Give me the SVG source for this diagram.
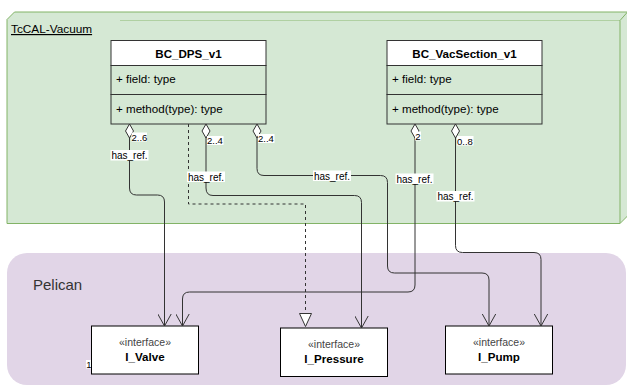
<svg xmlns="http://www.w3.org/2000/svg" width="627" height="386" viewBox="0 0 627 386">
  <defs>
    <style>
      text { font-family: "Liberation Sans", Arial, sans-serif; }
      .cls { stroke: #333333; stroke-width: 1; }
      .row { fill: #d5e8d4; }
      .hdr { fill: #ffffff; }
      .title { font-size: 11.6px; font-weight: bold; fill: #000; text-anchor: middle; }
      .attr { font-size: 11.6px; fill: #000; }
      .iface { fill: #ffffff; stroke: #000000; stroke-width: 1; }
      .stereo { font-size: 10.5px; fill: #444; text-anchor: middle; }
      .iname { font-size: 11.6px; font-weight: bold; fill: #000; text-anchor: middle; }
      .edge { fill: none; stroke: #333333; stroke-width: 1; }
      .dash { stroke-dasharray: 3 3; }
      .lblbg { fill: #ffffff; }
      .lbl { font-size: 10px; fill: #000; text-anchor: middle; }
      .mult { font-size: 9.5px; fill: #000; }
    </style>
    <marker id="open" viewBox="0 0 14 14" refX="13" refY="7" markerWidth="14" markerHeight="14" markerUnits="userSpaceOnUse" orient="auto">
      <path d="M1,0.3 L13,7 L1,13.7" fill="none" stroke="#333333" stroke-width="1"/>
    </marker>
    <marker id="dia" viewBox="0 0 16 10" refX="1" refY="5" markerWidth="16" markerHeight="10" markerUnits="userSpaceOnUse" orient="auto">
      <path d="M1,5 L8,1 L15,5 L8,9 Z" fill="#ffffff" stroke="#333333" stroke-width="1"/>
    </marker>
  </defs>

  <g id="pkg-tccal">
    <path d="M7,19.5 L14.5,12 L627.5,12 L627.5,216 L620,223.5 L7,223.5 Z" fill="#d5e8d4" stroke="#82b366" stroke-width="1"/>
    <path d="M620,223.5 L620,20.5 L627.5,12" fill="none" stroke="#82b366" stroke-width="1"/>
    <path d="M120,20.5 L620,20.5" fill="none" stroke="#82b366" stroke-width="1" stroke-opacity="0.45"/>
    <text x="11" y="33" font-size="11.8" fill="#000" text-decoration="underline">TcCAL-Vacuum</text>
  </g>

  <g id="pkg-pelican">
    <rect x="7" y="253" width="619" height="132" rx="20" ry="20" fill="#e1d5e7"/>
    <text x="33" y="290" font-size="15" fill="#333333">Pelican</text>
  </g>

  <g id="BC_DPS_v1">
    <rect class="cls hdr" x="111" y="40.5" width="155" height="25"/>
    <rect class="cls row" x="111" y="65.5" width="155" height="29"/>
    <rect class="cls row" x="111" y="94.5" width="155" height="29.5"/>
    <text class="title" x="188.5" y="57.5">BC_DPS_v1</text>
    <text class="attr" x="116" y="83">+ field: type</text>
    <text class="attr" x="116" y="113">+ method(type): type</text>
  </g>

  <g id="BC_VacSection_v1">
    <rect class="cls hdr" x="387" y="40.5" width="155" height="25"/>
    <rect class="cls row" x="387" y="65.5" width="155" height="29"/>
    <rect class="cls row" x="387" y="94.5" width="155" height="29.5"/>
    <text class="title" x="464.5" y="57.5">BC_VacSection_v1</text>
    <text class="attr" x="392" y="83">+ field: type</text>
    <text class="attr" x="392" y="113">+ method(type): type</text>
  </g>

  <g id="I_Valve">
    <rect class="iface" x="91.5" y="326" width="107" height="48"/>
    <text class="stereo" x="145" y="346">«interface»</text>
    <text class="iname" x="145" y="361">I_Valve</text>
  </g>

  <g id="I_Pressure">
    <rect class="iface" x="280.5" y="328" width="107" height="48.5"/>
    <text class="stereo" x="334" y="348">«interface»</text>
    <text class="iname" x="334" y="363">I_Pressure</text>
  </g>

  <g id="I_Pump">
    <rect class="iface" x="445.5" y="326" width="107" height="48"/>
    <text class="stereo" x="499" y="346">«interface»</text>
    <text class="iname" x="499" y="361">I_Pump</text>
  </g>

  <g id="connectors">
    <path class="edge" d="M129.5,124 L129.5,188 Q129.5,195 136.5,195 L157.5,195 Q164.5,195 164.5,202 L164.5,326" marker-start="url(#dia)" marker-end="url(#open)"/>
    <path class="edge dash" d="M188.5,124 L188.5,204 L305.5,204 L305.5,313.5"/>
    <path d="M299.5,313.5 L311.5,313.5 L305.5,326.5 Z" fill="#ffffff" stroke="#333333" stroke-width="1"/>
    <path class="edge" d="M206,124 L206,188 Q206,195.5 213,195.5 L354.5,195.5 Q361.5,195.5 361.5,202.5 L361.5,328" marker-start="url(#dia)" marker-end="url(#open)"/>
    <path class="edge" d="M257,124 L257,168.5 Q257,175.5 264,175.5 L380.5,175.5 Q387.5,175.5 387.5,182.5 L387.5,266 Q387.5,273 394.5,273 L482,273 Q489,273 489,280 L489,326" marker-start="url(#dia)" marker-end="url(#open)"/>
    <path class="edge" d="M415,124 L415,285 Q415,292 408,292 L189.5,292 Q182.5,292 182.5,299 L182.5,326" marker-start="url(#dia)" marker-end="url(#open)"/>
    <path class="edge" d="M455.5,124 L455.5,245.5 Q455.5,252.5 462.5,252.5 L534,252.5 Q541,252.5 541,259.5 L541,326" marker-start="url(#dia)" marker-end="url(#open)"/>

    <rect class="lblbg" x="110.5" y="150" width="38" height="10.5"/>
    <text class="lbl" x="129.5" y="159">has_ref.</text>
    <rect class="lblbg" x="187" y="171.5" width="38" height="10.5"/>
    <text class="lbl" x="206" y="180.5">has_ref.</text>
    <rect class="lblbg" x="313" y="170.5" width="38" height="10.5"/>
    <text class="lbl" x="332" y="179.5">has_ref.</text>
    <rect class="lblbg" x="395.5" y="173.5" width="38" height="10.5"/>
    <text class="lbl" x="414.5" y="182.5">has_ref.</text>
    <rect class="lblbg" x="436.5" y="191" width="38" height="10.5"/>
    <text class="lbl" x="455.5" y="200">has_ref.</text>

    <rect class="lblbg" x="131.5" y="132.5" width="15.5" height="9"/>
    <text class="mult" x="131.5" y="140.5">2..6</text>
    <rect class="lblbg" x="207" y="136" width="16.5" height="9"/>
    <text class="mult" x="207" y="144">2..4</text>
    <rect class="lblbg" x="258" y="134" width="16.5" height="9"/>
    <text class="mult" x="258" y="142">2..4</text>
    <rect class="lblbg" x="415" y="131.5" width="6" height="9"/>
    <text class="mult" x="415.2" y="139.5">2</text>
    <rect class="lblbg" x="457" y="136" width="16.5" height="9.5"/>
    <text class="mult" x="457" y="144.5">0..8</text>
    <rect class="lblbg" x="86" y="360" width="5" height="8.5"/>
    <text class="mult" x="86.3" y="367.5" font-size="8.5">1</text>
  </g>
</svg>
